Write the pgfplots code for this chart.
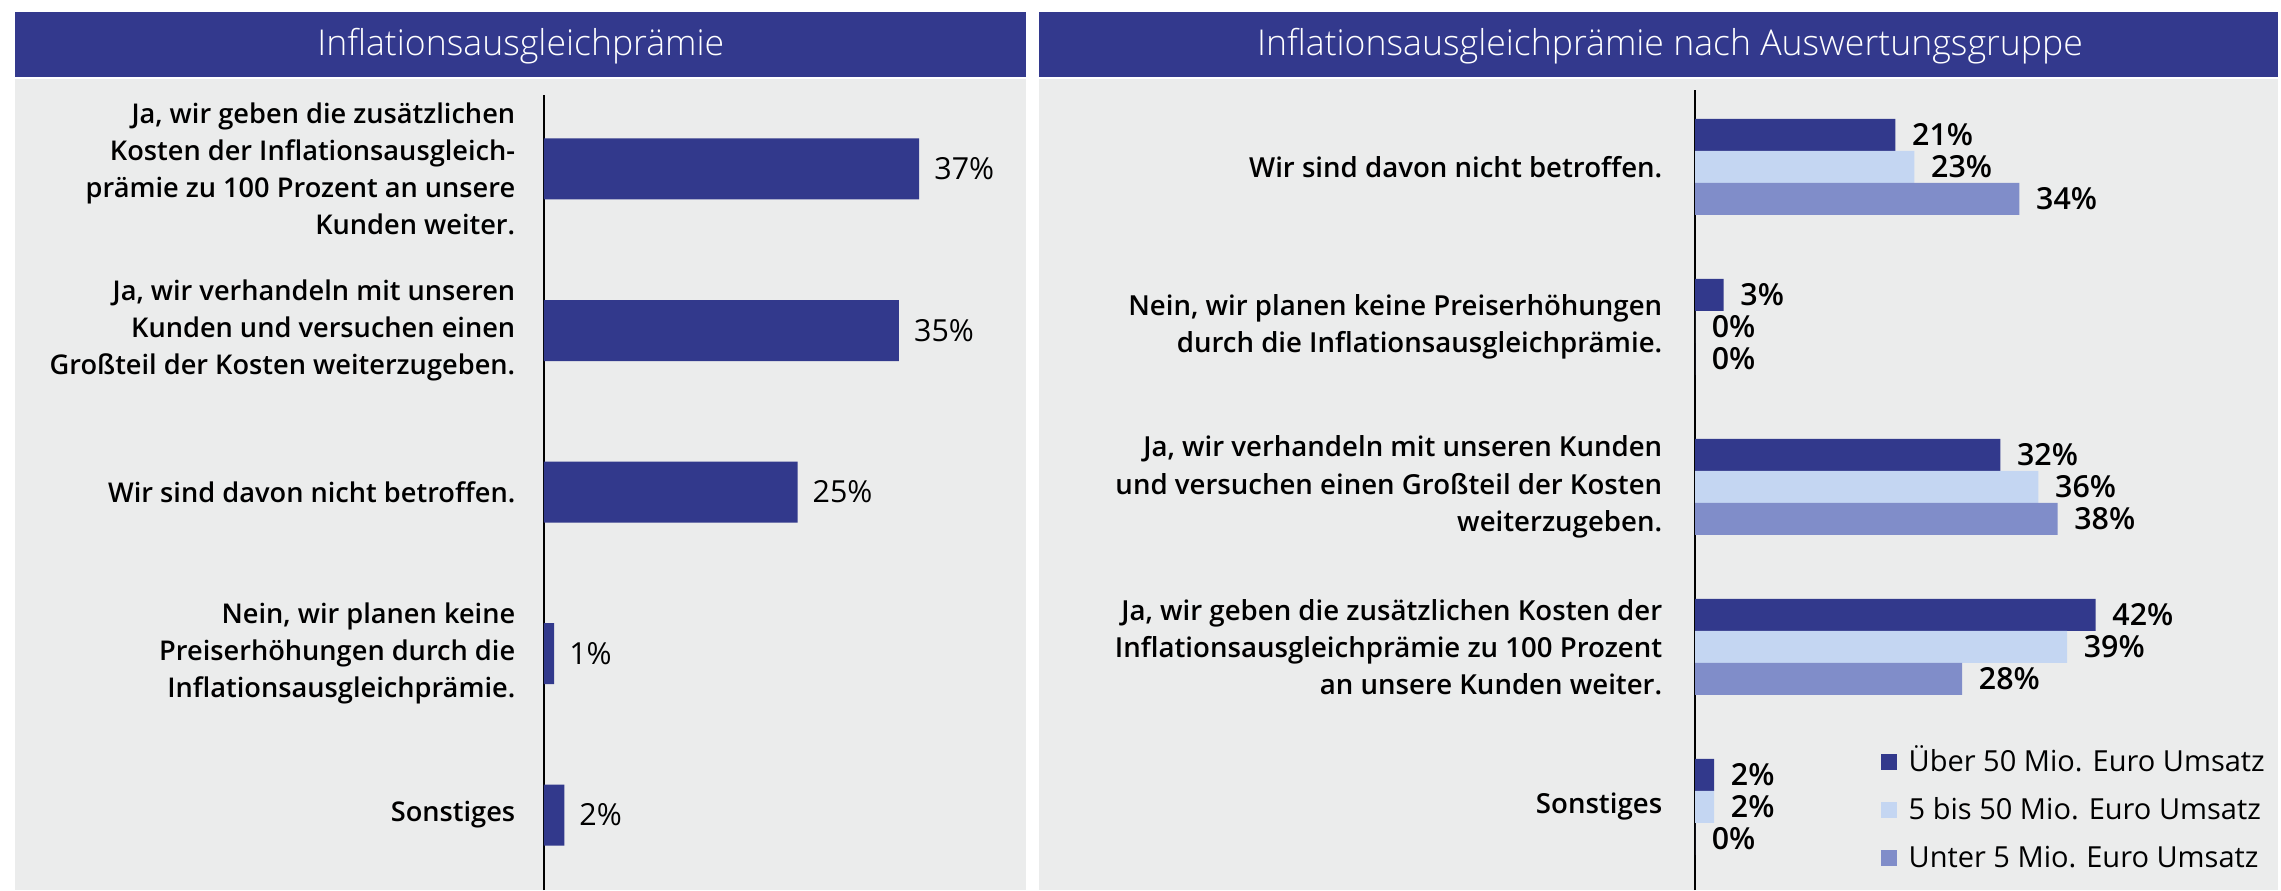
\documentclass[border=0pt]{standalone}
\usepackage{fontspec}
\setmainfont{Open Sans}
\newfontfamily\semib{Open Sans Semibold}
\newfontfamily\light{Open Sans Light}
\usepackage{pgfplots}
\pgfplotsset{compat=1.18}
\definecolor{titleblue}{RGB}{51,57,141}
\definecolor{bggrey}{RGB}{235,236,236}
\definecolor{cdark}{RGB}{50,57,140}
\definecolor{clight}{RGB}{196,214,242}
\definecolor{cmid}{RGB}{128,141,201}
\begin{document}
\begin{tikzpicture}
\useasboundingbox (0,0) rectangle (570.25pt,-222.5pt);
\fill[white] (0,0) rectangle (570.25pt,-222.5pt);
\fill[titleblue] (3.75pt,-3pt) rectangle (256.5pt,-19.25pt);
\fill[bggrey] (3.75pt,-19.75pt) rectangle (256.5pt,-222.5pt);
\node[text=white, font=\light\fontsize{8.9}{10}\selectfont] at (130.2pt,-11.6pt) {Inflationsausgleichprämie};
\fill[titleblue] (259.75pt,-3pt) rectangle (569.5pt,-19.25pt);
\fill[bggrey] (259.75pt,-19.75pt) rectangle (569.5pt,-222.5pt);
\node[text=white, font=\light\fontsize{8.9}{10}\selectfont] at (417.5pt,-11.6pt) {Inflationsausgleichprämie nach Auswertungsgruppe};

\begin{axis}[at={(136pt,-23.75pt)}, anchor=north west, scale only axis,
  width=119.15pt, height=198.75pt, xmin=0, xmax=47, ymin=-0.464, ymax=4.458,
  xbar, bar width=15.25pt,
  axis x line=none, axis y line=left, y axis line style={-, line width=0.5pt},
  ytick={0,1,2,3,4},
  yticklabels={{Sonstiges},{Nein, wir planen keine\\Preiserhöhungen durch die\\Inflationsausgleichprämie.},{Wir sind davon nicht betroffen.},{Ja, wir verhandeln mit unseren\\Kunden und versuchen einen\\Großteil der Kosten weiterzugeben.},{Ja, wir geben die zusätzlichen\\Kosten der Inflationsausgleich-\\prämie zu 100 Prozent an unsere\\Kunden weiter.}},
  yticklabel style={align=right, font=\semib\fontsize{6.8}{9.3}\selectfont, inner sep=0pt, xshift=-7pt},
  major tick length=0pt, clip=false,
  /pgf/number format/assume math mode=true,
  point meta=x,
  nodes near coords={\pgfmathprintnumber{\pgfplotspointmeta}\%},
  nodes near coords style={font=\fontsize{7.6}{9}\selectfont, anchor=west, inner sep=0pt, xshift=3.6pt},
]
\addplot[fill=cdark, draw=none] coordinates {(2,0) (1,1) (25,2) (35,3) (37,4)};
\end{axis}

\begin{axis}[at={(423.75pt,-22.5pt)}, anchor=north west, scale only axis,
  width=143.1pt, height=200pt, xmin=0, xmax=60, ymin=-0.519, ymax=4.481,
  xbar, bar width=8pt,
  axis x line=none, axis y line=left, y axis line style={-, line width=0.5pt},
  ytick={0,1,2,3,4},
  yticklabels={{Sonstiges},{Ja, wir geben die zusätzlichen Kosten der\\Inflationsausgleichprämie zu 100 Prozent\\an unsere Kunden weiter.},{Ja, wir verhandeln mit unseren Kunden\\und versuchen einen Großteil der Kosten\\weiterzugeben.},{Nein, wir planen keine Preiserhöhungen\\durch die Inflationsausgleichprämie.},{Wir sind davon nicht betroffen.}},
  yticklabel style={align=right, font=\semib\fontsize{6.9}{9.3}\selectfont, inner sep=0pt, xshift=-8pt},
  major tick length=0pt, clip=false,
  /pgf/number format/assume math mode=true,
  point meta=x,
  nodes near coords={\pgfmathprintnumber{\pgfplotspointmeta}\%},
  nodes near coords style={font=\semib\fontsize{7.6}{9}\selectfont, anchor=west, inner sep=0pt, xshift=4pt},
  legend image code/.code={\fill[#1] (0pt,-2pt) rectangle (4pt,2pt);},
  legend style={at={(0.323,0.1)}, anchor=west, draw=none, fill=none, inner sep=0pt,
    font=\fontsize{7.25}{8}\selectfont, row sep=4.5pt,
    nodes={inner sep=0pt, text height=6pt, text depth=1.5pt},
    /tikz/every odd column/.append style={column sep=3pt}},
  legend cell align=left,
]
\addplot[fill=cdark, draw=none, bar shift=8pt] coordinates {(2,0) (42,1) (32,2) (3,3) (21,4)};
\addplot[fill=clight, draw=none, bar shift=0pt] coordinates {(2,0) (39,1) (36,2) (0,3) (23,4)};
\addplot[fill=cmid, draw=none, bar shift=-8pt] coordinates {(0,0) (28,1) (38,2) (0,3) (34,4)};
\legend{Über 50 Mio. Euro Umsatz, 5 bis 50 Mio. Euro Umsatz, Unter 5 Mio. Euro Umsatz}
\end{axis}
\end{tikzpicture}
\end{document}
